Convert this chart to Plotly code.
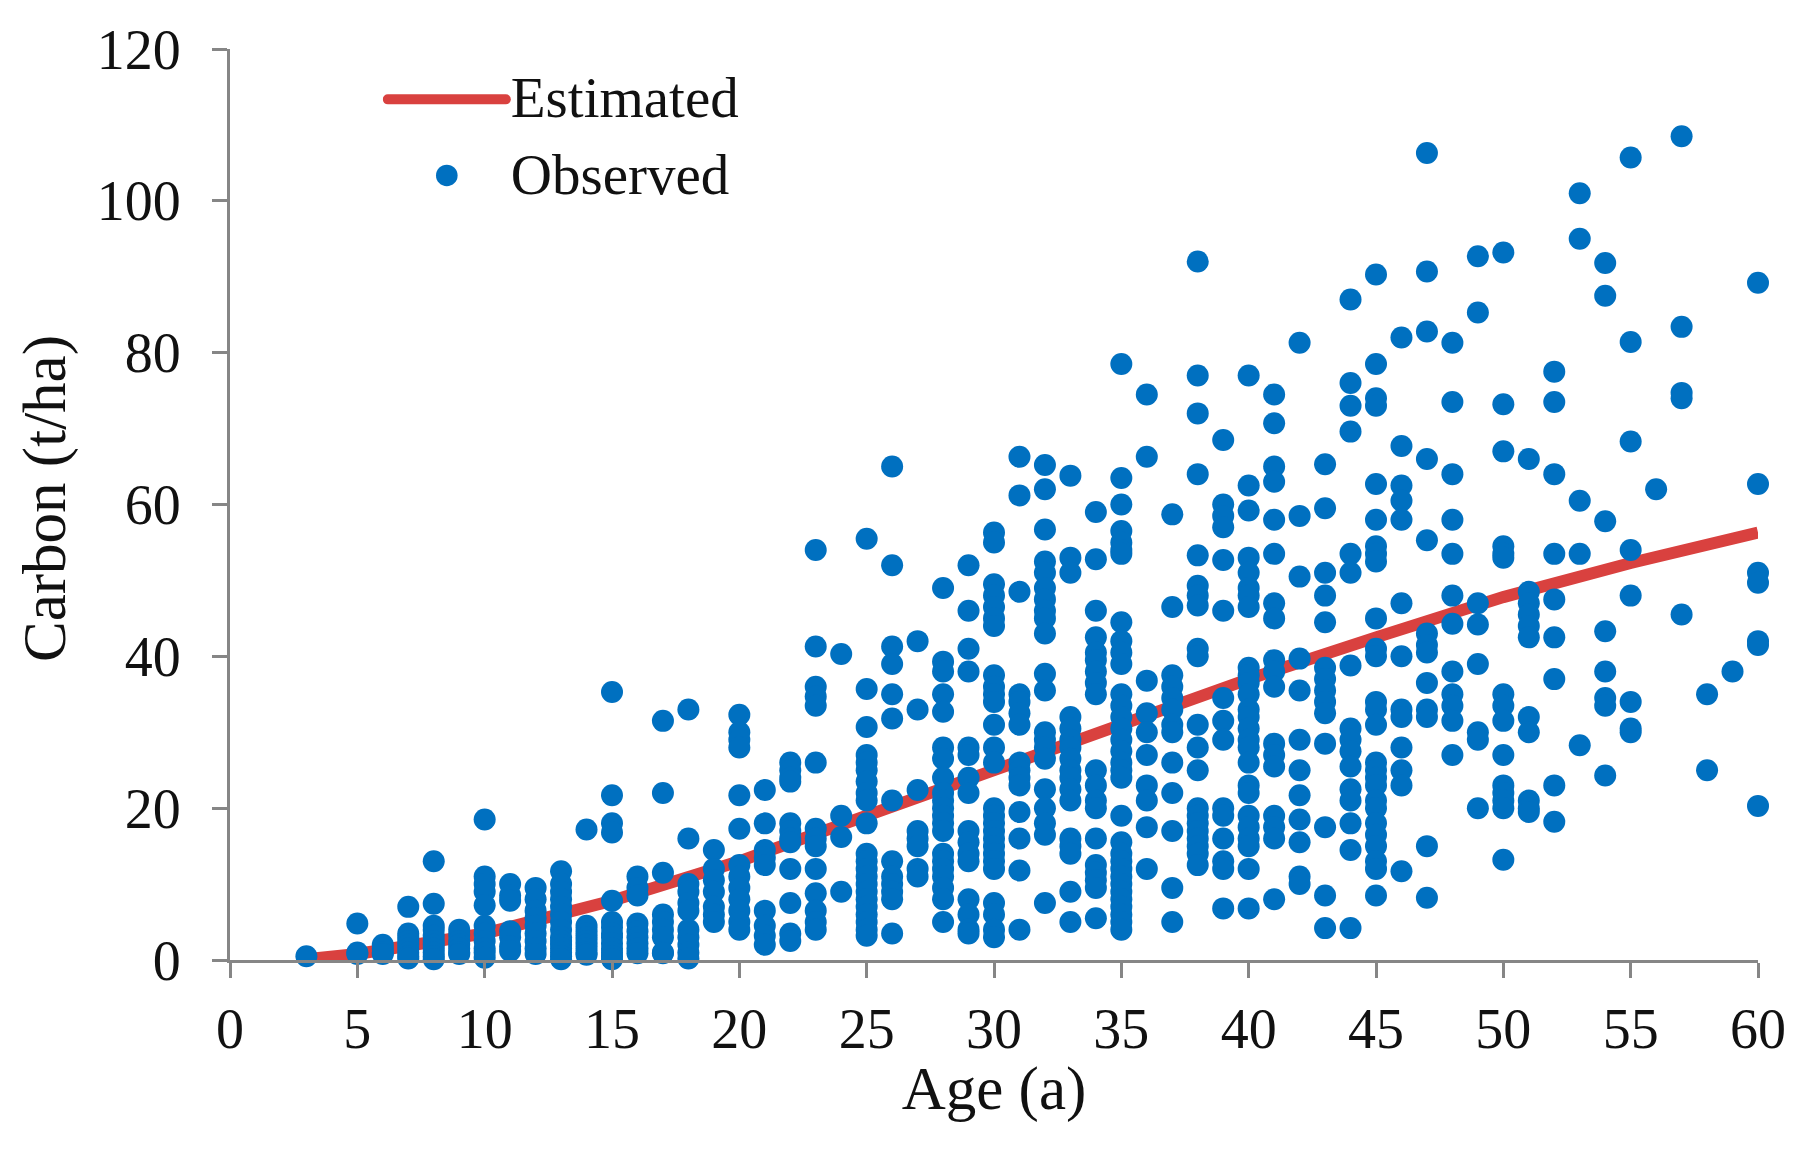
import plotly.graph_objects as go

# Observed carbon (t/ha), one list per stand age (a)
age_03 = [0.5]
age_05 = [4.8, 1.0, 0.8]
age_06 = [2, 1.5, 1, 0.8]
age_07 = [7, 3.5, 3, 2.5, 2, 1.5, 1, 0.5, 0.2]
age_08 = [13, 7.4, 4.5, 4, 3.2, 2.5, 2, 1.5, 1, 0.5, 0.1]
age_09 = [4, 3.3, 2.5, 2, 1.5, 1, 0.8]
age_10 = [18.5, 11, 10, 9, 7.2, 4.5, 3.5, 2.5, 1.5, 1, 0.3]
age_11 = [10, 8.5, 7.8, 3.8, 3, 1.8, 1.2]
age_12 = [9.5, 8, 6.5, 5.5, 4.5, 3.5, 2.5, 1.5, 0.8]
age_13 = [11.7, 10, 9, 8, 7, 6, 5, 4, 3, 2.5, 2, 1.5, 1, 0.5, 0.1]
age_14 = [17.2, 4.5, 4, 3.5, 3, 2.5, 2, 1.5, 1, 0.7]
age_15 = [35.3, 21.7, 18, 16.8, 7.8, 5, 4.3, 3.5, 3, 2.2, 1.5, 1, 0.5, 0.1]
age_16 = [11, 9.5, 8.5, 4.8, 3.8, 3, 2.2, 1.5, 0.9]
age_17 = [31.5, 22, 11.5, 6, 5, 4, 3, 1, 0.9]
age_18 = [33, 16, 10, 9, 7.5, 6.5, 4, 3, 2, 1, 0.2]
age_19 = [14.5, 12, 10.5, 9, 7, 6, 5]
age_20 = [32.3, 30, 29, 28, 21.7, 17.3, 12.5, 11, 9.5, 8, 6.5, 5, 4]
age_21 = [22.4, 18, 14.5, 13.5, 12.5, 6.5, 4.5, 3.2, 2]
age_22 = [26, 25, 24, 23.5, 18, 17, 16, 15.5, 12, 7.5, 3.5, 2.5]
age_23 = [54, 41.3, 36, 34.7, 33.5, 26, 17.3, 16, 15, 12, 8.8, 6.5, 5, 4]
age_24 = [40.3, 19, 16.2, 9]
age_25 = [55.5, 35.7, 30.7, 27, 26, 25, 23.5, 22, 21, 18, 14, 13, 12, 11, 10, 9, 8, 7, 6, 5, 4, 3.2]
age_26 = [65, 52, 41.3, 39, 35, 31.8, 21, 13, 11, 10, 9, 8, 3.5]
age_27 = [42, 33, 22.4, 17, 16, 15, 12, 11]
age_28 = [49, 39.3, 38, 35, 32.7, 28, 26.5, 24, 22, 21, 20, 19, 18, 17, 14, 13, 12, 11, 9.5, 8, 5]
age_29 = [52, 46, 41, 38, 28, 27, 24, 22, 17, 15.5, 14, 13, 8, 6, 4, 3.5]
age_30 = [56.3, 55, 49.5, 48, 46.5, 45, 44, 37.5, 36, 35, 34, 31, 28, 26, 20, 19, 18, 17, 16, 15, 14, 13, 12, 7.5, 6, 4, 3]
age_31 = [66.3, 61.2, 48.5, 35, 34, 32.5, 31, 26, 25, 24, 23, 19.5, 16, 11.8, 4]
age_32 = [65.2, 62, 56.7, 52.5, 51, 49, 47.5, 46, 45, 43, 37.7, 35.5, 30, 29, 28, 26.5, 22.5, 20, 18, 16.5, 7.5]
age_33 = [63.8, 53, 51, 32, 30.5, 29, 28, 26.5, 25, 24, 22.5, 21, 16, 15, 14, 9, 5]
age_34 = [59, 52.8, 46, 42.5, 40.5, 39.5, 38, 36.5, 35, 25, 23, 21, 20, 16, 12.5, 11.5, 10.5, 9.5, 5.5]
age_35 = [78.5, 63.5, 60, 56.5, 55, 54, 53.5, 44.5, 42, 40.5, 39, 35, 33.5, 32, 30.5, 29, 27.5, 26, 25, 24, 19, 15.5, 14, 13, 12, 11, 10, 9, 8, 7, 6, 5, 4]
age_36 = [74.5, 66.3, 36.8, 32.5, 30, 27, 23, 21, 17.5, 12]
age_37 = [58.7, 46.5, 37.5, 36, 34.5, 33, 31, 30, 26, 22, 17, 9.5, 5]
age_38 = [92, 77, 72, 64, 53.3, 49.3, 48, 46.7, 41, 40, 31, 28, 25, 20, 19, 18, 17, 16, 15, 14, 12.5]
age_39 = [68.5, 60, 58.5, 57, 52.7, 46, 34.5, 31.5, 29, 20, 19, 16, 13, 12, 6.8]
age_40 = [77, 62.5, 59.2, 53, 51, 49, 48, 46.5, 38.5, 37.5, 36.5, 35, 33, 32, 30.5, 29, 28, 26, 23, 22, 19, 17.5, 16, 15, 12, 6.8]
age_41 = [74.5, 70.7, 65, 63, 58, 53.5, 47, 45, 39.5, 38, 36, 28.5, 27, 25.5, 19, 17.5, 16, 8]
age_42 = [81.3, 58.5, 50.5, 39.7, 35.5, 29, 25, 21.7, 18.5, 15.5, 11, 10]
age_43 = [65.3, 59.5, 51, 48, 44.5, 38.5, 37, 35.5, 34, 32.5, 28.5, 17.5, 8.5, 4.2]
age_44 = [87, 76, 73, 69.6, 53.5, 51, 38.8, 30.5, 29, 27.5, 25.5, 22.5, 21, 18, 14.5, 4.2]
age_45 = [90.3, 78.5, 74, 73, 62.7, 58, 54.5, 53.5, 52.5, 45, 41, 40, 34, 33, 31, 26, 25, 24, 23, 21, 20, 18, 16.5, 15, 13, 12, 8.5]
age_46 = [82, 67.7, 62.5, 60.5, 58, 47, 40, 33, 32, 28, 25, 23, 11.7]
age_47 = [106.3, 90.7, 82.8, 66, 55.3, 43, 41.5, 40.5, 36.5, 33, 32, 15, 8.2]
age_48 = [81.3, 73.5, 64, 58, 53.5, 48, 44.3, 38, 35, 33.5, 31.5, 27]
age_49 = [92.7, 85.3, 47, 44.2, 39, 30, 29, 20]
age_50 = [93.2, 73.2, 67, 54.5, 53.5, 53, 35, 33.5, 31.5, 27, 23, 22, 21, 20, 13.2]
age_51 = [66, 48.5, 47, 45.5, 44, 42.5, 32, 30, 21, 20, 19.5]
age_52 = [77.5, 73.5, 64, 53.5, 47.5, 42.5, 37, 23, 18.2]
age_53 = [101, 95, 60.5, 53.5, 28.3]
age_54 = [91.8, 87.5, 57.8, 43.3, 38, 34.5, 33.5, 24.3]
age_55 = [105.7, 81.4, 68.3, 54, 48, 34, 30.5, 30]
age_56 = [62]
age_57 = [108.5, 83.4, 74.7, 74, 45.5]
age_58 = [35, 25]
age_59 = [38]
age_60 = [89.2, 62.7, 51, 49.7, 42, 41.5, 20.3]

observed_ages = [3, 5, 6, 7, 8, 9, 10, 11, 12, 13, 14, 15, 16, 17, 18, 19, 20, 21, 22, 23, 24, 25, 26, 27, 28, 29, 30,
                 31, 32, 33, 34, 35, 36, 37, 38, 39, 40, 41, 42, 43, 44, 45, 46, 47, 48, 49, 50, 51, 52, 53, 54, 55,
                 56, 57, 58, 59, 60]
observed_columns = [age_03, age_05, age_06, age_07, age_08, age_09, age_10, age_11, age_12, age_13, age_14, age_15,
                    age_16, age_17, age_18, age_19, age_20, age_21, age_22, age_23, age_24, age_25, age_26, age_27,
                    age_28, age_29, age_30, age_31, age_32, age_33, age_34, age_35, age_36, age_37, age_38, age_39,
                    age_40, age_41, age_42, age_43, age_44, age_45, age_46, age_47, age_48, age_49, age_50, age_51,
                    age_52, age_53, age_54, age_55, age_56, age_57, age_58, age_59, age_60]

estimated_age = [3, 5, 10, 15, 20, 25, 30, 35, 40, 45, 50, 55, 60]
estimated_carbon = [0.1, 0.8, 3.5, 7.8, 13, 18.8, 25, 31, 37, 42.5, 47.8, 52.3, 56.3]

x_ticks = list(range(0, 61, 5))
y_ticks = list(range(0, 121, 20))

obs_x = [a for a, col in zip(observed_ages, observed_columns) for _ in col]
obs_y = [v for col in observed_columns for v in col]

SERIF = "Liberation Serif"
AXIS_GREY = "#868686"
INK = "#111111"

fig = go.Figure()
fig.add_trace(go.Scatter(x=estimated_age, y=estimated_carbon, mode="lines", name="Estimated",
                         line=dict(color="#D9413F", width=12), cliponaxis=False))
fig.add_trace(go.Scatter(x=obs_x, y=obs_y, mode="markers", name="Observed",
                         marker=dict(color="#0070C0", size=22), cliponaxis=False))

axis_common = dict(showgrid=False, zeroline=False, showline=True, linecolor=AXIS_GREY, linewidth=3,
                   ticks="outside", ticklen=15, tickcolor=AXIS_GREY, tickwidth=3,
                   tickfont=dict(family=SERIF, size=56, color=INK))
fig.update_xaxes(range=[0, 60], tickvals=x_ticks, ticklabelstandoff=3,
                 title=dict(text="Age (a)", standoff=0, font=dict(family=SERIF, size=61, color=INK)),
                 **axis_common)
fig.update_yaxes(range=[0, 120], tickvals=y_ticks, ticklabelstandoff=20,
                 title=dict(text="Carbon (t/ha)", standoff=12, font=dict(family=SERIF, size=61, color=INK)),
                 **axis_common)
fig.update_layout(width=1820, height=1157, paper_bgcolor="white", plot_bgcolor="white",
                  margin=dict(l=230, r=62, t=49, b=197),
                  legend=dict(x=0.10, y=0.998, xanchor="left", yanchor="top", bgcolor="rgba(0,0,0,0)",
                              itemwidth=118, font=dict(family=SERIF, size=57, color=INK)))

# Legend glyph fine-tuning: Plotly caps legend marker size at 16 px and centres glyphs above the text's centre line.
post = """
document.body.style.margin='0';
document.querySelectorAll('.legend .legendlines').forEach(function(g){g.setAttribute('transform','translate(0,5)');});
document.querySelectorAll('.legend .legendlines path').forEach(function(p){p.style.strokeLinecap='round';});
document.querySelectorAll('.legend path.scatterpts').forEach(function(p){
  p.setAttribute('transform',(p.getAttribute('transform')||'')+' translate(0,4) scale(1.35)');
});
document.querySelectorAll('.ytitle').forEach(function(t){t.setAttribute('transform','translate(0,-6) '+(t.getAttribute('transform')||''));});
document.querySelectorAll('.xtitle').forEach(function(t){t.setAttribute('transform','translate(0,-5) '+(t.getAttribute('transform')||''));});
"""
fig.write_html("out.html", post_script=post, config={"displayModeBar": False})
